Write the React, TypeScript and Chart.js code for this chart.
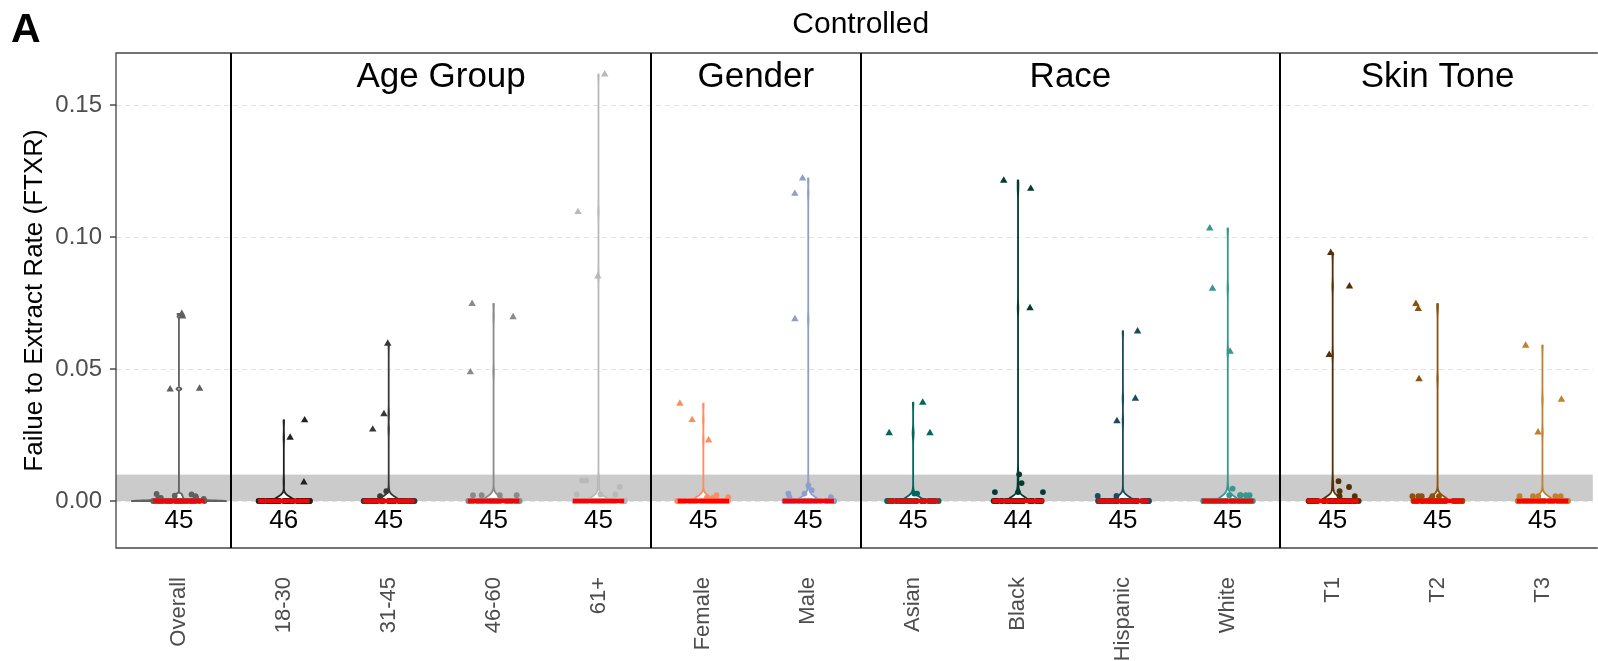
import React, { useEffect, useRef } from "react";
import { Chart, registerables } from "chart.js";
Chart.register(...registerables);

const FONT = "'Liberation Sans', Arial, Helvetica, sans-serif";

// ---------------- data ----------------
const categories = ["Overall", "18-30", "31-45", "46-60", "61+", "Female", "Male", "Asian", "Black", "Hispanic", "White", "T1", "T2", "T3"];
const sampleCounts = [45, 46, 45, 45, 45, 45, 45, 45, 44, 45, 45, 45, 45, 45];
// points drawn as triangles
const outlierRates: number[][] = [
  [0.0709, 0.0699, 0.0426, 0.0423],
  [0.0306, 0.024, 0.0071],
  [0.0596, 0.0271, 0.0329],
  [0.0697, 0.0747, 0.0488],
  [0.1616, 0.1095, 0.0851],
  [0.023, 0.0307, 0.0369],
  [0.0689, 0.1222, 0.1164],
  [0.0373, 0.0257, 0.0257],
  [0.1183, 0.1214, 0.0731],
  [0.0643, 0.0303, 0.0388],
  [0.1033, 0.0805, 0.0566],
  [0.094, 0.0813, 0.0554],
  [0.0728, 0.0747, 0.0462],
  [0.0589, 0.0384, 0.026],
];
// small non-zero values drawn as circles (the rest of each group is 0)
const lowRates: number[][] = [
  [0.0025, 0.0027, 0.002, 0.0015, 0.0012, 0.0018, 0.001, 0.0008],
  [],
  [0.0037, 0.0018],
  [0.0022, 0.0022, 0.0022, 0.0022],
  [0.0025, 0.0025, 0.0053, 0.0078, 0.0078, 0.0025],
  [0.0022, 0.0013, 0.0013, 0.0015],
  [0.0059, 0.0041, 0.0028, 0.0028, 0.0015, 0.0015],
  [0.0028, 0.0028],
  [0.0101, 0.0068, 0.0034, 0.0034, 0.0034],
  [0.0019, 0.0019],
  [0.0047, 0.0022, 0.0022, 0.0022, 0.0022, 0.0022],
  [0.0075, 0.0053, 0.0037, 0.0018, 0.0018],
  [0.0018, 0.0018, 0.0018, 0.0018, 0.0018],
  [0.0018, 0.0018, 0.0018, 0.0018, 0.0018],
];
const groupColors = ["#606060", "#222222", "#383838", "#8A8A8A", "#B9B9B9", "#FC8D62", "#8DA0CB", "#01665E", "#003C30", "#1B4C5A", "#35978F", "#543005", "#8C510A", "#BF812D"];
const facetLabels = ["Age Group", "Gender", "Race", "Skin Tone"];
const facetFirst = [1, 5, 7, 11];
const facetLast = [4, 6, 10, 13];
const yTickValues = [0, 0.05, 0.1, 0.15];
const yTickLabels = ["0.00", "0.05", "0.10", "0.15"];
const bandLimits = [0, 0.01];
const figureTag = "A";
const titleText = "Controlled";
const yTitle = "Failue to Extract Rate (FTXR)";

// -------------- helpers ---------------
function jitter(i: number, k: number, w: number): number {
  const s = Math.sin((i + 1) * 12.9898 + (k + 1) * 78.233) * 43758.5453;
  return ((s - Math.floor(s)) * 2 - 1) * w;
}
function allValues(i: number): number[] {
  const zeros = sampleCounts[i] - outlierRates[i].length - lowRates[i].length;
  return [...new Array(Math.max(zeros, 0)).fill(0), ...lowRates[i], ...outlierRates[i]];
}
function median(v: number[]): number {
  const s = [...v].sort((a, b) => a - b);
  const m = Math.floor(s.length / 2);
  return s.length % 2 ? s[m] : (s[m - 1] + s[m]) / 2;
}

const overlayPlugin = {
  id: "overlay",
  beforeDatasetsDraw(chart: any) {
    const { ctx, chartArea: a, scales } = chart;
    const xs = scales.x, ys = scales.y;
    ctx.save();
    // grid
    ctx.strokeStyle = "#E3E3E3";
    ctx.lineWidth = 1;
    ctx.setLineDash([5, 4]);
    yTickValues.forEach((v) => {
      const py = Math.round(ys.getPixelForValue(v)) + 0.5;
      ctx.beginPath();
      ctx.moveTo(a.left, py);
      ctx.lineTo(a.right, py);
      ctx.stroke();
    });
    ctx.setLineDash([]);
    // band
    const b0 = ys.getPixelForValue(bandLimits[0]);
    const b1 = ys.getPixelForValue(bandLimits[1]);
    ctx.fillStyle = "#CBCBCB";
    ctx.fillRect(a.left, b1, a.right - a.left, b0 - b1);
    // violins
    ctx.beginPath();
    ctx.rect(a.left, a.top, a.right - a.left, a.bottom - a.top);
    ctx.clip();
    categories.forEach((_, i) => {
      const vals = allValues(i);
      const lo = Math.min(...vals), hi = Math.max(...vals);
      const bw = i === 0 ? 0.0003 : 0.0015;
      const half = i === 0 ? 0.45 : 0.1;
      const N = 1600;
      const ys2: number[] = [], ds: number[] = [];
      for (let s = 0; s <= N; s++) {
        const y = lo + ((hi - lo) * s) / N;
        let d = 0;
        for (const v of vals) {
          const z = (y - v) / bw;
          d += Math.exp(-0.5 * z * z);
        }
        ys2.push(y);
        ds.push(d);
      }
      const dmax = Math.max(...ds);
      ctx.beginPath();
      for (let s = 0; s <= N; s++) {
        const px = xs.getPixelForValue(i - (half * ds[s]) / dmax);
        const py = ys.getPixelForValue(ys2[s]);
        if (s === 0) ctx.moveTo(px, py);
        else ctx.lineTo(px, py);
      }
      for (let s = N; s >= 0; s--) {
        ctx.lineTo(xs.getPixelForValue(i + (half * ds[s]) / dmax), ys.getPixelForValue(ys2[s]));
      }
      ctx.closePath();
      ctx.fillStyle = "#FFFFFF";
      ctx.fill();
      ctx.strokeStyle = groupColors[i];
      ctx.lineWidth = 1.8;
      ctx.lineJoin = "round";
      ctx.stroke();
    });
    ctx.restore();
  },
  afterDatasetsDraw(chart: any) {
    const { ctx, chartArea: a, scales } = chart;
    const xs = scales.x, ys = scales.y;
    ctx.save();
    // panel border
    ctx.strokeStyle = "#444444";
    ctx.lineWidth = 1.3;
    ctx.beginPath();
    ctx.moveTo(a.right + 5, a.top);
    ctx.lineTo(a.left, a.top);
    ctx.lineTo(a.left, a.bottom);
    ctx.lineTo(a.right + 5, a.bottom);
    ctx.stroke();
    // facet dividers
    ctx.strokeStyle = "#000000";
    ctx.lineWidth = 2;
    facetFirst.forEach((f) => {
      const px = Math.round(xs.getPixelForValue(f - 0.5));
      ctx.beginPath();
      ctx.moveTo(px, a.top);
      ctx.lineTo(px, a.bottom);
      ctx.stroke();
    });
    // y tick marks
    ctx.strokeStyle = "#333333";
    ctx.lineWidth = 1.3;
    yTickValues.forEach((v) => {
      const py = ys.getPixelForValue(v);
      ctx.beginPath();
      ctx.moveTo(a.left - 6, py);
      ctx.lineTo(a.left, py);
      ctx.stroke();
    });
    // count labels
    ctx.fillStyle = "#000000";
    ctx.font = `26px ${FONT}`;
    ctx.textAlign = "center";
    ctx.textBaseline = "alphabetic";
    const base = ys.getPixelForValue(0) + 27;
    categories.forEach((_, i) => {
      ctx.fillText(String(sampleCounts[i]), xs.getPixelForValue(i), base);
    });
    // facet strip labels
    ctx.font = `35px ${FONT}`;
    facetLabels.forEach((lab, k) => {
      const cx = xs.getPixelForValue((facetFirst[k] - 0.5 + facetLast[k] + 0.5) / 2);
      ctx.fillText(lab, cx, a.top + 34);
    });
    // title
    ctx.font = `30px ${FONT}`;
    ctx.fillText(titleText, xs.getPixelForValue((categories.length - 1) / 2), 33);
    // tag
    ctx.font = `bold 41px ${FONT}`;
    ctx.textAlign = "left";
    ctx.fillText(figureTag, 11, 42);
    // y title
    ctx.font = `26px ${FONT}`;
    ctx.textAlign = "center";
    ctx.translate(42, (a.top + a.bottom) / 2);
    ctx.rotate(-Math.PI / 2);
    ctx.fillText(yTitle, 0, 0);
    ctx.restore();
  },
};

export default function App() {
  const ref = useRef<HTMLCanvasElement | null>(null);
  useEffect(() => {
    if (!ref.current) return;
    const datasets: any[] = [];
    // median segments (on top)
    categories.forEach((_, i) => {
      const m = median(allValues(i));
      datasets.push({
        data: [
          { x: i - 0.245, y: m },
          { x: i + 0.245, y: m },
        ],
        showLine: true,
        borderColor: "#FF0000",
        borderWidth: 4.5,
        pointRadius: 0,
        borderCapStyle: "butt",
      });
    });
    // triangles
    categories.forEach((_, i) => {
      datasets.push({
        data: outlierRates[i].map((v, k) => ({ x: i + jitter(i, k + 50, 0.25), y: v })),
        pointStyle: "triangle",
        pointRadius: 4.3,
        backgroundColor: groupColors[i],
        borderColor: groupColors[i],
        borderWidth: 0,
      });
    });
    // circles
    categories.forEach((_, i) => {
      const zeros = sampleCounts[i] - outlierRates[i].length - lowRates[i].length;
      const vals = [...lowRates[i], ...new Array(Math.max(zeros, 0)).fill(0)];
      datasets.push({
        data: vals.map((v, k) => ({ x: i + jitter(i, k, 0.25), y: v })),
        pointStyle: "circle",
        pointRadius: 2.9,
        backgroundColor: groupColors[i],
        borderColor: groupColors[i],
        borderWidth: 0,
      });
    });

    const chart = new Chart(ref.current, {
      type: "scatter",
      data: { datasets },
      options: {
        animation: false,
        responsive: false,
        devicePixelRatio: 1,
        events: [],
        layout: { padding: { top: 53, left: 0, right: 0, bottom: 0 } },
        plugins: { legend: { display: false }, tooltip: { enabled: false }, title: { display: false } },
        scales: {
          x: {
            type: "linear",
            min: -0.6,
            max: 13.48,
            afterBuildTicks: (s: any) => {
              s.ticks = categories.map((_, i) => ({ value: i }));
            },
            afterFit: (s: any) => {
              s.height = 113;
            },
            grid: { display: false, drawTicks: false },
            border: { display: false },
            ticks: {
              autoSkip: false,
              minRotation: 90,
              maxRotation: 90,
              padding: 29,
              color: "#4D4D4D",
              font: { size: 22, family: FONT },
              callback: (v: any) => categories[Math.round(Number(v))] ?? "",
            },
          },
          y: {
            type: "linear",
            min: -0.0178,
            max: 0.1697,
            afterBuildTicks: (s: any) => {
              s.ticks = yTickValues.map((v) => ({ value: v }));
            },
            afterFit: (s: any) => {
              s.width = 116;
            },
            grid: { display: false, drawTicks: false },
            border: { display: false },
            ticks: {
              padding: 14,
              color: "#4D4D4D",
              font: { size: 24, family: FONT },
              callback: (_v: any, idx: number) => yTickLabels[idx],
            },
          },
        },
      } as any,
      plugins: [overlayPlugin],
    });
    return () => chart.destroy();
  }, []);
  return (
    <div style={{ position: "fixed", left: 0, top: 0, width: 1598, height: 661, background: "#FFFFFF" }}>
      <canvas ref={ref} width={1598} height={661} style={{ width: 1598, height: 661, display: "block" }} />
    </div>
  );
}
